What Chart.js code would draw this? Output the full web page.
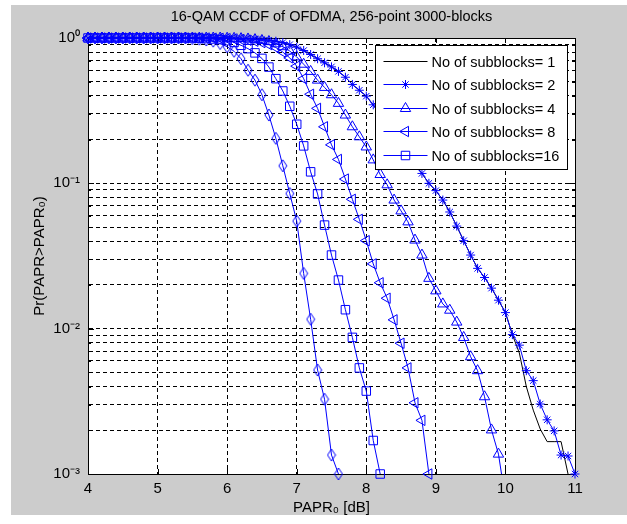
<!DOCTYPE html>
<html lang="en">
<head>
<meta charset="UTF-8">
<title>16-QAM CCDF of OFDMA</title>
<script src="https://cdn.jsdelivr.net/npm/chart.js"></script>
<style>
  html, body { margin: 0; padding: 0; background: #fff; }
  #wrap { width: 627px; height: 524px; }
</style>
</head>
<body>
<div id="wrap"><canvas id="ccdf" width="627" height="524"></canvas></div>
<script>
// PAPR0 threshold in dB (shared x values)
const papr0 = [
  4.0, 4.1, 4.2, 4.3, 4.4, 4.5, 4.6, 4.7, 4.8, 4.9,
  5.0, 5.1, 5.2, 5.3, 5.4, 5.5, 5.6, 5.7, 5.8, 5.9,
  6.0, 6.1, 6.2, 6.3, 6.4, 6.5, 6.6, 6.7, 6.8, 6.9,
  7.0, 7.1, 7.2, 7.3, 7.4, 7.5, 7.6, 7.7, 7.8, 7.9,
  8.0, 8.1, 8.2, 8.3, 8.4, 8.5, 8.6, 8.7, 8.8, 8.9,
  9.0, 9.1, 9.2, 9.3, 9.4, 9.5, 9.6, 9.7, 9.8, 9.9,
  10.0, 10.1, 10.2, 10.3, 10.4, 10.5, 10.6, 10.7, 10.8, 10.9,
  11.0
];

// CCDF values, one entry per papr0 step (arrays stop where the curve leaves the axes)
const ccdf1 = [
  1, 1, 1, 1, 1, 1, 1, 1, 1, 1,
  1, 1, 1, 1, 1, 1, 1, 1, 1, 1,
  1, 0.997, 0.995, 0.99, 0.984, 0.976, 0.966, 0.95, 0.93, 0.90,
  0.865, 0.82, 0.77, 0.72, 0.675, 0.633, 0.589, 0.537, 0.479, 0.437,
  0.398, 0.347, 0.295, 0.25, 0.21, 0.178, 0.151, 0.135, 0.117, 0.1,
  0.0891, 0.0767, 0.0635, 0.0508, 0.0403, 0.0321, 0.026, 0.0225, 0.019, 0.0157,
  0.0129, 0.0091, 0.0068, 0.004, 0.00275, 0.00204, 0.00167, 0.00167, 0.00167, 0.001
];
const ccdf2 = [
  1, 1, 1, 1, 1, 1, 1, 1, 1, 1,
  1, 1, 1, 1, 1, 1, 1, 1, 1, 1,
  1, 0.997, 0.995, 0.99, 0.984, 0.976, 0.966, 0.95, 0.93, 0.90,
  0.865, 0.82, 0.77, 0.72, 0.675, 0.633, 0.589, 0.537, 0.479, 0.437,
  0.398, 0.347, 0.295, 0.25, 0.21, 0.178, 0.151, 0.135, 0.117, 0.1,
  0.0891, 0.0767, 0.0635, 0.0508, 0.0403, 0.0321, 0.026, 0.0225, 0.019, 0.0157,
  0.0129, 0.0091, 0.0077, 0.00514, 0.00439, 0.00303, 0.00236, 0.00198, 0.00135, 0.00133,
  0.001
];
const ccdf4 = [
  1, 1, 1, 1, 1, 1, 1, 1, 1, 1,
  1, 1, 1, 1, 1, 1, 1, 1, 1, 1,
  0.997, 0.995, 0.99, 0.985, 0.975, 0.962, 0.944, 0.912, 0.871, 0.813,
  0.741, 0.66, 0.589, 0.513, 0.457, 0.407, 0.355, 0.295, 0.245, 0.209,
  0.178, 0.145, 0.115, 0.0977, 0.0767, 0.0646, 0.0543, 0.0407, 0.0321, 0.0222,
  0.0182, 0.0148, 0.0134, 0.0111, 0.0087, 0.00641, 0.00514, 0.0034, 0.00201, 0.00137,
  0.00067
];
const ccdf8 = [
  1, 1, 1, 1, 1, 1, 1, 1, 1, 1,
  1, 1, 1, 1, 1, 1, 1, 1, 0.997, 0.995,
  0.99, 0.985, 0.977, 0.966, 0.95, 0.93, 0.90, 0.86, 0.80, 0.73,
  0.64, 0.525, 0.41, 0.328, 0.245, 0.184, 0.146, 0.107, 0.0776, 0.0565,
  0.0403, 0.0279, 0.0207, 0.0162, 0.0115, 0.00794, 0.00537, 0.00309, 0.00234, 0.001
];
const ccdf16 = [
  1, 1, 1, 1, 1, 1, 1, 1, 1, 1,
  1, 1, 1, 1, 1, 1, 0.995, 0.991, 0.984, 0.975,
  0.959, 0.933, 0.891, 0.845, 0.79, 0.724, 0.631, 0.525, 0.432, 0.339,
  0.255, 0.181, 0.12, 0.0845, 0.0516, 0.0321, 0.0216, 0.0135, 0.00871, 0.00537,
  0.00372, 0.0017, 0.001
];
// extra curve drawn with diamonds (not listed in the legend)
const ccdfDiamond = [
  1, 1, 1, 1, 1, 1, 1, 1, 1, 1,
  1, 1, 1, 1, 1, 0.991, 0.982, 0.968, 0.951, 0.916,
  0.871, 0.81, 0.72, 0.60, 0.513, 0.407, 0.295, 0.204, 0.132, 0.0851,
  0.055, 0.024, 0.0116, 0.00519, 0.00327, 0.00135, 0.001
];

const seriesLabels = [
  'No of subblocks= 1',
  'No of subblocks= 2',
  'No of subblocks= 4',
  'No of subblocks= 8',
  'No of subblocks=16'
];
const yDecades = [0.001, 0.01, 0.1, 1];
const yDecadeLabels = ['10\u207B\u00B3', '10\u207B\u00B2', '10\u207B\u00B9', '10\u2070'];

const FONT = '"Liberation Sans", Arial, sans-serif';
const BLUE = '#0000ff';

// MATLAB-like diamond marker (taller than wide)
const diamond = document.createElement('canvas');
diamond.width = 10; diamond.height = 14;
(function () {
  const c = diamond.getContext('2d');
  c.strokeStyle = BLUE; c.lineWidth = 1;
  c.beginPath();
  c.moveTo(5, 1); c.lineTo(9, 7); c.lineTo(5, 13); c.lineTo(1, 7); c.closePath();
  c.stroke();
})();

const toPoints = vals => vals.map((v, i) => ({x: papr0[i], y: v}));

const series = [
  {label: seriesLabels[0], data: ccdf1, color: '#000000', style: false, radius: 0, rot: 0, order: 6},
  {label: seriesLabels[1], data: ccdf2, color: BLUE, style: 'star', radius: 4.5, rot: 0, order: 5},
  {label: seriesLabels[2], data: ccdf4, color: BLUE, style: 'triangle', radius: 6, rot: 0, order: 4},
  {label: seriesLabels[3], data: ccdf8, color: BLUE, style: 'triangle', radius: 6, rot: -90, order: 3},
  {label: seriesLabels[4], data: ccdf16, color: BLUE, style: 'rect', radius: 6, rot: 0, order: 2},
  {label: '', data: ccdfDiamond, color: BLUE, style: diamond, radius: 6, rot: 0, order: 1}
];

const datasets = series.map(s => ({
  label: s.label,
  data: toPoints(s.data),
  borderColor: s.color,
  borderWidth: 1,
  backgroundColor: 'transparent',
  pointStyle: s.style,
  pointRadius: s.radius,
  pointRotation: s.rot,
  pointBorderColor: s.color,
  pointBackgroundColor: 'transparent',
  pointBorderWidth: 1,
  tension: 0,
  order: s.order,
  // curve 4 has a last sample under 1e-3: cut it at the bottom axis
  clip: s.data === ccdf4 ? {left: false, top: false, right: false, bottom: 0} : false
}));

const backdrop = {
  id: 'backdrop',
  beforeDraw(chart) {
    const {ctx, chartArea: a} = chart;
    ctx.save();
    ctx.fillStyle = '#ffffff';
    ctx.fillRect(0, 0, chart.width, chart.height);
    ctx.fillStyle = '#cccccc';
    ctx.fillRect(11, 5, chart.width - 11, 510);
    ctx.fillStyle = '#ffffff';
    ctx.fillRect(a.left, a.top, a.right - a.left, a.bottom - a.top);
    ctx.restore();
  }
};

// axes box with inward tick marks
const frame = {
  id: 'frame',
  beforeDatasetsDraw(chart) {
    const {ctx, chartArea: a, scales} = chart;
    ctx.save();
    ctx.strokeStyle = '#000';
    ctx.lineWidth = 1;
    ctx.setLineDash([]);
    ctx.beginPath();
    scales.x.ticks.forEach(t => {
      const px = Math.round(scales.x.getPixelForValue(t.value)) + 0.5;
      ctx.moveTo(px, a.bottom); ctx.lineTo(px, a.bottom - 5);
      ctx.moveTo(px, a.top); ctx.lineTo(px, a.top + 5);
    });
    scales.y.ticks.forEach(t => {
      const py = Math.round(scales.y.getPixelForValue(t.value)) + 0.5;
      const len = yDecades.some(d => Math.abs(d - t.value) < 1e-9) ? 6 : 3;
      ctx.moveTo(a.left, py); ctx.lineTo(a.left + len, py);
      ctx.moveTo(a.right, py); ctx.lineTo(a.right - len, py);
    });
    ctx.stroke();
    ctx.strokeRect(Math.round(a.left) + 0.5, Math.round(a.top) + 0.5,
      Math.round(a.right - a.left), Math.round(a.bottom - a.top));
    ctx.restore();
  }
};

// MATLAB style legend box in the upper right corner of the axes
const boxLegend = {
  id: 'boxLegend',
  afterDatasetsDraw(chart) {
    const {ctx, chartArea: a} = chart;
    const left = 375.5, top = a.top + 7.5, w = 192, h = 124;
    ctx.save();
    ctx.fillStyle = '#fff';
    ctx.fillRect(left, top, w, h);
    ctx.strokeStyle = '#000';
    ctx.lineWidth = 1;
    ctx.strokeRect(left, top, w, h);
    ctx.font = '14.5px ' + FONT;
    ctx.textBaseline = 'middle';
    series.filter(s => s.label).forEach((s, i) => {
      const y = Math.round(top + 15.5 + i * 23.4) + 0.5;
      ctx.strokeStyle = s.color;
      ctx.beginPath();
      ctx.moveTo(left + 8, y); ctx.lineTo(left + 52, y);
      ctx.stroke();
      if (s.style) {
        ctx.fillStyle = 'transparent';
        Chart.helpers.drawPoint(ctx, {pointStyle: s.style, radius: s.radius, rotation: s.rot, borderWidth: 1}, left + 30, y);
      }
      ctx.fillStyle = '#000';
      ctx.fillText(s.label, left + 56, y + 1);
    });
    ctx.restore();
  }
};

new Chart(document.getElementById('ccdf'), {
  type: 'line',
  data: {datasets},
  plugins: [backdrop, frame, boxLegend],
  options: {
    responsive: false,
    animation: false,
    devicePixelRatio: 1,
    layout: {padding: {left: 0, right: 52, top: 0, bottom: 0}},
    plugins: {
      legend: {display: false},
      tooltip: {enabled: false},
      title: {
        display: true,
        fullSize: false,
        text: '16-QAM CCDF of OFDMA, 256-point 3000-blocks',
        color: '#000',
        font: {family: FONT, size: 14.5, weight: 'normal'},
        padding: {top: 8, bottom: 12.6}
      }
    },
    scales: {
      x: {
        type: 'linear',
        min: 4, max: 11,
        afterFit: s => { s.height = 50; },
        ticks: {stepSize: 1, color: '#000', padding: 6, font: {family: FONT, size: 15}},
        grid: {color: '#000', lineWidth: 1, drawTicks: false},
        border: {display: true, color: '#000', dash: [4, 3]},
        title: {
          display: true, text: 'PAPR\u2080 [dB]', color: '#000',
          font: {family: FONT, size: 15}, padding: {top: 0, bottom: 7}
        }
      },
      y: {
        type: 'logarithmic',
        min: 0.001, max: 1,
        afterFit: s => { s.width = 88; },
        afterBuildTicks: s => {
          const vals = [];
          yDecades.slice(0, 3).forEach(d => {
            for (let m = 1; m <= 9; m++) vals.push(+(m * d).toPrecision(3));
          });
          vals.push(1);
          s.ticks = vals.map(v => ({value: v}));
        },
        ticks: {
          autoSkip: false, color: '#000', padding: 8,
          font: {family: FONT, size: 15},
          callback: v => {
            const i = yDecades.findIndex(d => Math.abs(d - v) < 1e-9);
            return i >= 0 ? yDecadeLabels[i] : '';
          }
        },
        grid: {color: '#000', lineWidth: 1, drawTicks: false},
        border: {display: true, color: '#000', dash: [4, 3]},
        title: {
          display: true, text: 'Pr(PAPR>PAPR\u2080)', color: '#000',
          font: {family: FONT, size: 15}, padding: {top: 31}
        }
      }
    }
  }
});
</script>
</body>
</html>
